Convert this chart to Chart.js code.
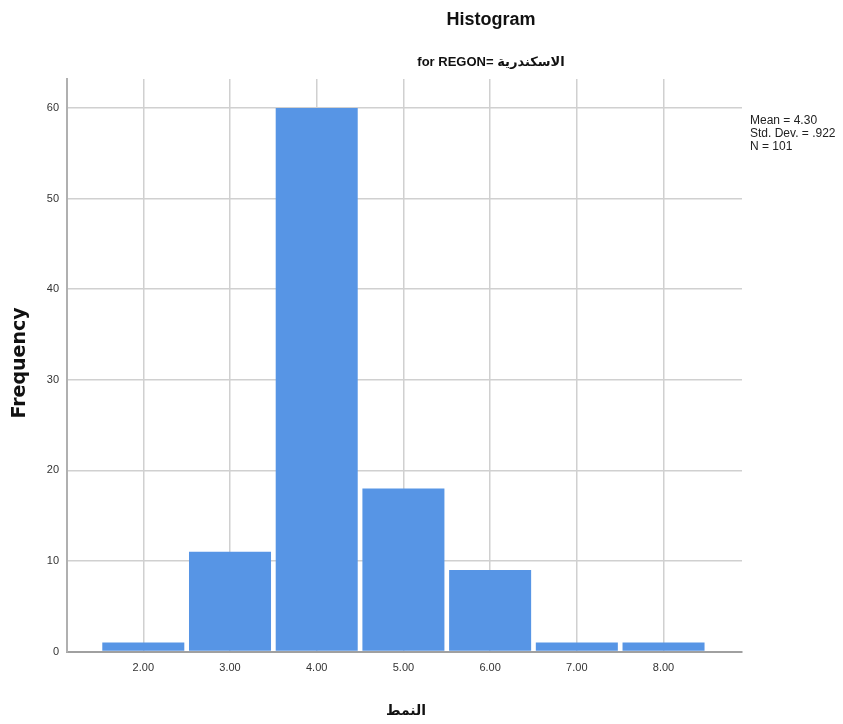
<!DOCTYPE html>
<html>
<head>
<meta charset="utf-8">
<script src="https://cdn.jsdelivr.net/npm/chart.js@4"></script>
<style>
  html, body { margin: 0; padding: 0; background: #ffffff; }
  #wrap { width: 843px; height: 724px; position: relative; }
</style>
</head>
<body>
<div id="wrap"><canvas id="c"></canvas></div>
<script>
// ---- data ----
const binCenters = [2, 3, 4, 5, 6, 7, 8];
const frequencies = [1, 11, 60, 18, 9, 1, 1];
const xTickValues = [2, 3, 4, 5, 6, 7, 8];
const yTickValues = [0, 10, 20, 30, 40, 50, 60];
const titleText = "Histogram";
const subtitleText = "for REGON= الاسكندرية";
const statsLines = ["Mean = 4.30", "Std. Dev. = .922", "N = 101"];
const xAxisTitle = "النمط";
const yAxisTitle = "Frequency";

const points = binCenters.map((x, i) => ({ x: x, y: frequencies[i] }));

const textPlugin = {
  id: 'texts',
  afterDraw(chart) {
    const ctx = chart.ctx;
    const area = chart.chartArea;
    ctx.save();
    ctx.fillStyle = '#111';
    ctx.textAlign = 'center';
    ctx.textBaseline = 'middle';
    ctx.font = 'bold 18px "Liberation Sans", Arial, sans-serif';
    ctx.fillText(titleText, 491, 20);
    ctx.font = 'bold 13px "Liberation Sans", "DejaVu Sans", Arial, sans-serif';
    ctx.fillText(subtitleText, 491, 62);
    // stats
    ctx.textAlign = 'left';
    ctx.font = '12px "Liberation Sans", Arial, sans-serif';
    ctx.fillStyle = '#222';
    statsLines.forEach((s, i) => ctx.fillText(s, area.right + 8, 121 + i * 13));
    // x axis title
    ctx.fillStyle = '#111';
    ctx.textAlign = 'center';
    ctx.font = 'bold 14px "DejaVu Sans", sans-serif';
    ctx.fillText(xAxisTitle, 406, 711);
    // y axis title
    ctx.translate(20, 363);
    ctx.rotate(-Math.PI / 2);
    ctx.font = 'bold 19px "DejaVu Sans", sans-serif';
    ctx.fillText(yAxisTitle, 0, 0);
    ctx.restore();
  }
};

new Chart(document.getElementById('c'), {
  type: 'bar',
  data: {
    datasets: [{
      data: points,
      backgroundColor: '#5795e5',
      borderWidth: 0,
      barPercentage: 0.946,
      categoryPercentage: 1.0
    }]
  },
  options: {
    responsive: true,
    maintainAspectRatio: false,
    animation: false,
    events: [],
    layout: { padding: { top: 79, right: 101, left: 0, bottom: 0 } },
    plugins: { legend: { display: false }, tooltip: { enabled: false }, title: { display: false } },
    scales: {
      x: {
        type: 'linear',
        offset: false,
        min: 1.12,
        max: 8.905,
        grid: { offset: false, color: '#d0d0d0', lineWidth: 1.5, drawTicks: false },
        border: { color: '#a0a0a0', width: 2 },
        afterBuildTicks(scale) { scale.ticks = xTickValues.map(v => ({ value: v })); },
        afterFit(scale) { scale.height = 72.5; },
        ticks: {
          padding: 10,
          color: '#333',
          font: { family: '"Liberation Sans", Arial, sans-serif', size: 11 },
          maxRotation: 0,
          autoSkip: false,
          callback: (v) => Number(v).toFixed(2)
        }
      },
      y: {
        min: 0,
        max: 63.2,
        grid: { color: '#d0d0d0', lineWidth: 1.5, drawTicks: false },
        border: { color: '#b0b0b0', width: 2 },
        afterBuildTicks(scale) { scale.ticks = yTickValues.map(v => ({ value: v })); },
        afterFit(scale) { scale.width = 67; },
        ticks: {
          padding: 8,
          color: '#333',
          font: { family: '"Liberation Sans", Arial, sans-serif', size: 11 },
          callback: (v) => String(v)
        }
      }
    }
  },
  plugins: [textPlugin]
});
</script>
</body>
</html>
